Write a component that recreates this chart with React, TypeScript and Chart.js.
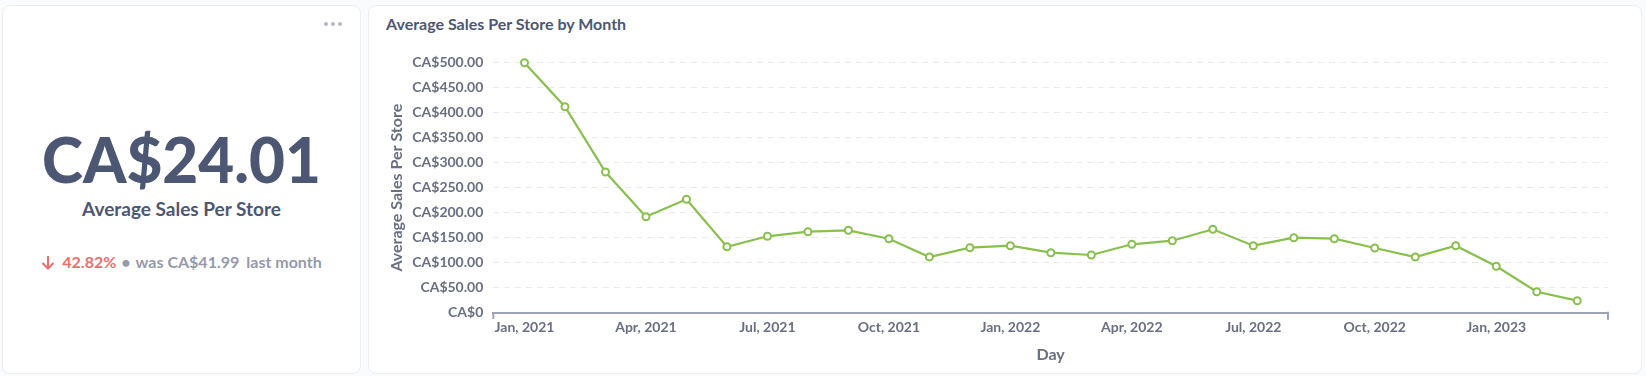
import React, { useEffect, useRef } from "react";
import { Chart, registerables } from "chart.js";

Chart.register(...registerables);

const MONTHS = [
  "Jan, 2021", "Feb, 2021", "Mar, 2021", "Apr, 2021", "May, 2021", "Jun, 2021",
  "Jul, 2021", "Aug, 2021", "Sep, 2021", "Oct, 2021", "Nov, 2021", "Dec, 2021",
  "Jan, 2022", "Feb, 2022", "Mar, 2022", "Apr, 2022", "May, 2022", "Jun, 2022",
  "Jul, 2022", "Aug, 2022", "Sep, 2022", "Oct, 2022", "Nov, 2022", "Dec, 2022",
  "Jan, 2023", "Feb, 2023", "Mar, 2023",
];

const AVG_SALES = [
  500, 412, 281.4, 192, 226.8, 132,
  152.8, 162, 164.8, 148, 111.4, 130,
  134, 120, 115.4, 136.8, 144, 166.8,
  134, 150, 148, 129.4, 111.4, 134,
  92.8, 41.99, 24.01,
];

const X_TICK_LABELS = [
  "Jan, 2021", "Apr, 2021", "Jul, 2021", "Oct, 2021",
  "Jan, 2022", "Apr, 2022", "Jul, 2022", "Oct, 2022", "Jan, 2023",
];

const Y_TICKS = [0, 50, 100, 150, 200, 250, 300, 350, 400, 450, 500];

const KPI_VALUE = "CA$24.01";
const KPI_LABEL = "Average Sales Per Store";
const KPI_CHANGE = "42.82%";
const KPI_PREVIOUS = "CA$41.99";

const GREEN = "#88bf4d";
const DARK = "#4c5773";
const AXIS_TEXT = "#696e80";
const AXIS_LINE = "#9ea3b3";
const FONT = "Lato, 'Noto Sans', sans-serif";

const fmtMoney = (v: number) => (v === 0 ? "CA$0" : "CA$" + v.toFixed(2));

const endTicksPlugin = {
  id: "endTicks",
  afterDraw(chart: any) {
    const { ctx, chartArea } = chart;
    ctx.save();
    ctx.strokeStyle = AXIS_LINE;
    ctx.lineWidth = 2;
    ctx.beginPath();
    ctx.moveTo(chartArea.left, chartArea.bottom);
    ctx.lineTo(chartArea.left, chartArea.bottom + 6);
    ctx.moveTo(chartArea.right, chartArea.bottom - 1);
    ctx.lineTo(chartArea.right, chartArea.bottom + 7);
    ctx.stroke();
    ctx.restore();
  },
};

function LineChart() {
  const ref = useRef<HTMLCanvasElement | null>(null);
  useEffect(() => {
    if (!ref.current) return;
    let alive = true;
    const chart = new Chart(ref.current, {
      type: "line",
      data: {
        datasets: [
          {
            label: KPI_LABEL,
            data: AVG_SALES.map((v, i) => ({ x: i, y: v })),
            borderColor: GREEN,
            borderWidth: 2.2,
            pointRadius: 3.5,
            pointBorderWidth: 2,
            pointBorderColor: GREEN,
            pointBackgroundColor: "#ffffff",
            tension: 0,
            clip: false as any,
          },
        ],
      },
      options: {
        animation: false,
        responsive: false,
        maintainAspectRatio: false,
        layout: { padding: { top: 22.7, left: 0, right: 34, bottom: 0 } },
        plugins: {
          legend: { display: false },
          tooltip: { enabled: false },
          title: { display: false },
        },
        scales: {
          x: {
            type: "linear",
            min: -0.77,
            max: 26.76,
            afterBuildTicks: (scale: any) => {
              scale.ticks = X_TICK_LABELS.map((l) => ({ value: MONTHS.indexOf(l) }));
            },
            afterFit: (scale: any) => {
              scale.height = 61.3;
            },
            grid: { display: false, drawTicks: false },
            border: { display: true, color: AXIS_LINE, width: 2 },
            ticks: {
              padding: 6,
              maxRotation: 0,
              autoSkip: false,
              color: AXIS_TEXT,
              font: { family: FONT, size: 14, weight: 700 },
              callback: (v: any) => MONTHS[Math.round(Number(v))] ?? "",
            },
            title: {
              display: true,
              text: "Day",
              color: AXIS_TEXT,
              font: { family: FONT, size: 16, weight: 700 },
              padding: { top: 0, bottom: 10 },
            },
          },
          y: {
            type: "linear",
            min: 0,
            max: 500,
            afterBuildTicks: (scale: any) => {
              scale.ticks = Y_TICKS.map((v) => ({ value: v }));
            },
            afterFit: (scale: any) => {
              scale.width = 125.3;
            },
            grid: {
              color: (c: any) => (c.tick && c.tick.value === 0 ? "rgba(0,0,0,0)" : "#e8eaee"),
              drawTicks: false,
              lineWidth: 1,
            },
            border: { display: false, dash: [6, 5] },
            ticks: {
              padding: 10,
              color: AXIS_TEXT,
              font: { family: FONT, size: 14, weight: 700 },
              callback: (v: any) => fmtMoney(Number(v)),
            },
            title: {
              display: true,
              text: "Average Sales Per Store",
              color: AXIS_TEXT,
              font: { family: FONT, size: 16, weight: 700 },
              padding: { top: 19, bottom: 0 },
            },
          },
        },
      },
      plugins: [endTicksPlugin],
    } as any);
    if ((document as any).fonts && (document as any).fonts.ready) {
      (document as any).fonts.ready.then(() => {
        if (alive) chart.update();
      });
    }
    return () => {
      alive = false;
      chart.destroy();
    };
  }, []);
  return (
    <canvas
      ref={ref}
      width={1274}
      height={334}
      style={{ position: "absolute", left: -1, top: 34, width: 1274, height: 334 }}
    />
  );
}

export default function App() {
  const card: React.CSSProperties = {
    position: "absolute",
    top: 5,
    height: 369,
    background: "#ffffff",
    border: "1px solid #eceef2",
    borderRadius: 8,
    boxSizing: "border-box",
    overflow: "hidden",
    fontFamily: FONT,
  };
  return (
    <div
      style={{
        position: "absolute",
        left: 0,
        top: 0,
        width: 1646,
        height: 376,
        background: "#f9fbfc",
        overflow: "hidden",
        fontFamily: FONT,
      }}
    >
      <div style={{ ...card, left: 2, width: 359 }}>
        <svg width={24} height={8} style={{ position: "absolute", left: 318, top: 14 }}>
          <circle cx={5} cy={4} r={2} fill="#b4b8c2" />
          <circle cx={12} cy={4} r={2} fill="#b4b8c2" />
          <circle cx={19} cy={4} r={2} fill="#b4b8c2" />
        </svg>
        <div
          style={{
            position: "absolute",
            left: 0,
            width: "100%",
            top: 115.8,
            textAlign: "center",
            fontSize: 62,
            lineHeight: "74.4px",
            fontWeight: 900,
            color: DARK,
          }}
        >
          {KPI_VALUE}
        </div>
        <div
          style={{
            position: "absolute",
            left: 0,
            width: "100%",
            top: 191,
            textAlign: "center",
            fontSize: 19,
            lineHeight: "23px",
            fontWeight: 700,
            color: DARK,
          }}
        >
          {KPI_LABEL}
        </div>
        <div
          style={{
            position: "absolute",
            left: 0,
            width: "100%",
            top: 245.5,
            textAlign: "center",
            fontSize: 16,
            lineHeight: "20px",
            fontWeight: 700,
            color: "#949aab",
            whiteSpace: "nowrap",
          }}
        >
          <svg width={14} height={15} viewBox="0 0 14 15" style={{ verticalAlign: "-2px", marginRight: 7 }}>
            <path d="M7 1 V13 M1.5 8 L7 13.5 L12.5 8" stroke="#ed6e6e" strokeWidth={2} fill="none" />
          </svg>
          <span style={{ color: "#ed6e6e" }}>{KPI_CHANGE}</span>
          <span style={{ margin: "0 5px" }}>•</span>
          <span>was {KPI_PREVIOUS}</span>
          <span style={{ marginLeft: 7 }}>last month</span>
        </div>
      </div>
      <div style={{ ...card, left: 368, width: 1274 }}>
        <div
          style={{
            position: "absolute",
            left: 17,
            top: 8.3,
            fontSize: 16,
            lineHeight: "20px",
            fontWeight: 700,
            color: DARK,
            whiteSpace: "nowrap",
          }}
        >
          Average Sales Per Store by Month
        </div>
        <LineChart />
      </div>
    </div>
  );
}
